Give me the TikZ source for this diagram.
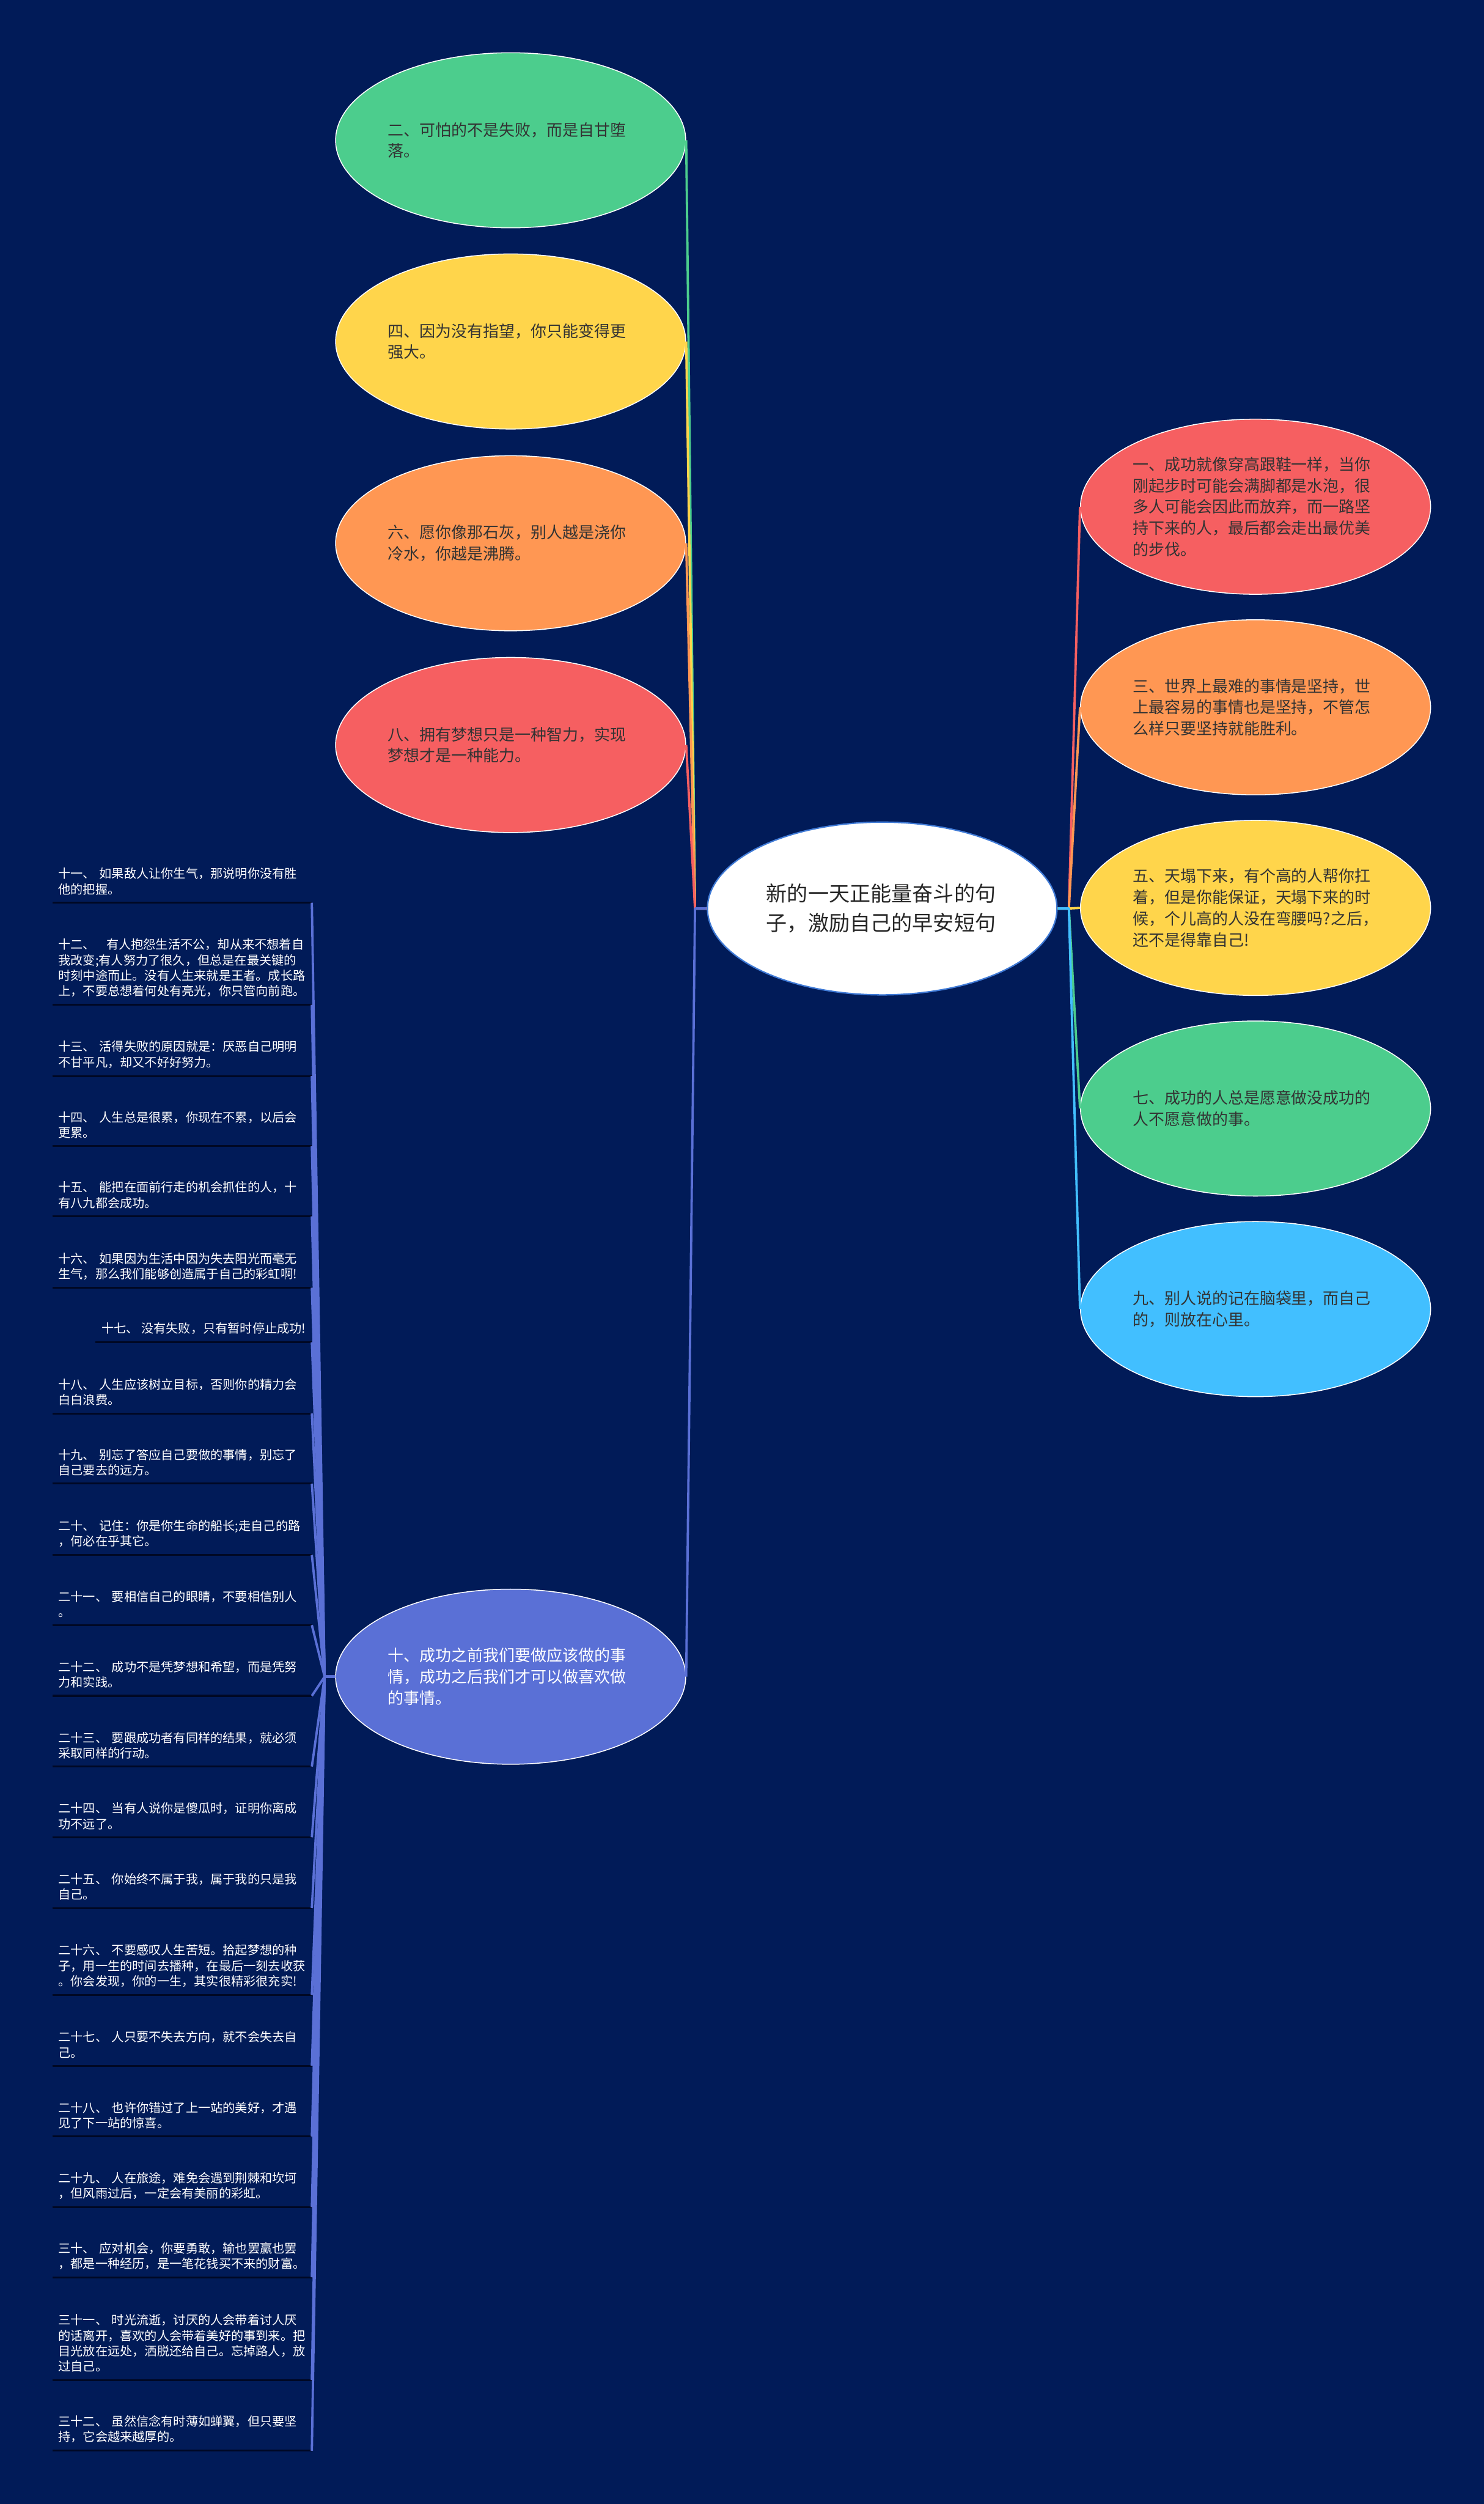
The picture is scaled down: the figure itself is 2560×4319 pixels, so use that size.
\documentclass[tikz,border=0pt]{standalone}
\usepackage{fontspec}
\setmainfont{Noto Sans CJK SC}
\usetikzlibrary{shapes.geometric}
\definecolor{bg}{HTML}{011B58}
\definecolor{cgreen}{HTML}{4CCD8D}
\definecolor{cyellow}{HTML}{FFD54B}
\definecolor{corange}{HTML}{FF9753}
\definecolor{cred}{HTML}{F65F61}
\definecolor{cblue}{HTML}{42BFFF}
\definecolor{cviolet}{HTML}{5A70D6}
\definecolor{rootline}{HTML}{3F7AD6}
\definecolor{leaftext}{HTML}{333333}
\definecolor{ulinecol}{HTML}{000824}
\begin{document}
\begin{tikzpicture}[x=0.5pt,y=-0.5pt,
  rootnode/.style={ellipse, draw=rootline, line width=1.2pt, fill=white,
    minimum width=301.5pt, minimum height=149pt, inner sep=0pt,
    text width=200pt, align=left, text=black!85,
    font=\fontsize{18pt}{25pt}\selectfont},
  leaf/.style={ellipse, draw=white, line width=0.8pt, fill=#1,
    minimum width=302pt, minimum height=151pt, inner sep=0pt,
    text width=212pt, align=left, text=leaftext,
    font=\fontsize{13.7pt}{18.35pt}\selectfont},
  itembase/.style={anchor=south east, text=white, align=left,
    inner xsep=5pt, inner ysep=6.5pt,
    font=\fontsize{10.65pt}{13.35pt}\selectfont},
  listitem/.style={itembase, text width=213.5pt},
  uline/.style={draw=ulinecol, line width=1.6pt},
  conn/.style={draw=#1, line width=2pt, line join=round}
]
\useasboundingbox (0,0) rectangle (2560,4319);
\fill[bg] (0,0) rectangle (2560,4319);

% root
\node[rootnode] (root) at (1522,1567) {新的一天正能量奋斗的句\\子，激励自己的早安短句};
\coordinate (jL) at (1199,1567);
\coordinate (jR) at (1844,1567);

% left ellipses
\node[leaf=cgreen] (n2) at (881,242) {二、可怕的不是失败，而是自甘堕\\落。};
\node[leaf=cyellow] (n4) at (881,589) {四、因为没有指望，你只能变得更\\强大。};
\node[leaf=corange] (n6) at (881,937) {六、愿你像那石灰，别人越是浇你\\冷水，你越是沸腾。};
\node[leaf=cred] (n8) at (881,1285) {八、拥有梦想只是一种智力，实现\\梦想才是一种能力。};
\node[leaf=cviolet, text=white] (n10) at (881,2892) {十、成功之前我们要做应该做的事\\情，成功之后我们才可以做喜欢做\\的事情。};

% right ellipses
\node[leaf=cred] (n1) at (2166,874) {一、成功就像穿高跟鞋一样，当你\\刚起步时可能会满脚都是水泡，很\\多人可能会因此而放弃，而一路坚\\持下来的人，最后都会走出最优美\\的步伐。};
\node[leaf=corange] (n3) at (2166,1220) {三、世界上最难的事情是坚持，世\\上最容易的事情也是坚持，不管怎\\么样只要坚持就能胜利。};
\node[leaf=cyellow] (n5) at (2166,1566) {五、天塌下来，有个高的人帮你扛\\着，但是你能保证，天塌下来的时\\候，个儿高的人没在弯腰吗?之后，\\还不是得靠自己!};
\node[leaf=cgreen] (n7) at (2166,1912) {七、成功的人总是愿意做没成功的\\人不愿意做的事。};
\node[leaf=cblue] (n9) at (2166,2258) {九、别人说的记在脑袋里，而自己\\的，则放在心里。};

% list items under 十
\coordinate (jT) at (560,2892);
\node[listitem] (i11) at (538,1557) {十一、 如果敌人让你生气，那说明你没有胜\\他的把握。};
\node[listitem] (i12) at (538,1733) {十二、\hspace{0.9em}有人抱怨生活不公，却从来不想着自\\我改变;有人努力了很久，但总是在最关键的\\时刻中途而止。没有人生来就是王者。成长路\\上，不要总想着何处有亮光，你只管向前跑。};
\node[listitem] (i13) at (538,1856) {十三、 活得失败的原因就是：厌恶自己明明\\不甘平凡，却又不好好努力。};
\node[listitem] (i14) at (538,1977) {十四、 人生总是很累，你现在不累，以后会\\更累。};
\node[listitem] (i15) at (538,2098) {十五、 能把在面前行走的机会抓住的人，十\\有八九都会成功。};
\node[listitem] (i16) at (538,2221) {十六、 如果因为生活中因为失去阳光而毫无\\生气，那么我们能够创造属于自己的彩虹啊!};
\node[itembase] (i17) at (538,2315) {十七、 没有失败，只有暂时停止成功!};
\node[listitem] (i18) at (538,2438) {十八、 人生应该树立目标，否则你的精力会\\白白浪费。};
\node[listitem] (i19) at (538,2559) {十九、 别忘了答应自己要做的事情，别忘了\\自己要去的远方。};
\node[listitem] (i20) at (538,2682) {二十、 记住：你是你生命的船长;走自己的路\\，何必在乎其它。};
\node[listitem] (i21) at (538,2803) {二十一、 要相信自己的眼睛，不要相信别人\\。};
\node[listitem] (i22) at (538,2925) {二十二、 成功不是凭梦想和希望，而是凭努\\力和实践。};
\node[listitem] (i23) at (538,3047) {二十三、 要跟成功者有同样的结果，就必须\\采取同样的行动。};
\node[listitem] (i24) at (538,3169) {二十四、 当有人说你是傻瓜时，证明你离成\\功不远了。};
\node[listitem] (i25) at (538,3291) {二十五、 你始终不属于我，属于我的只是我\\自己。};
\node[listitem] (i26) at (538,3441) {二十六、 不要感叹人生苦短。拾起梦想的种\\子，用一生的时间去播种，在最后一刻去收获\\。你会发现，你的一生，其实很精彩很充实!};
\node[listitem] (i27) at (538,3563) {二十七、 人只要不失去方向，就不会失去自\\己。};
\node[listitem] (i28) at (538,3685) {二十八、 也许你错过了上一站的美好，才遇\\见了下一站的惊喜。};
\node[listitem] (i29) at (538,3807) {二十九、 人在旅途，难免会遇到荆棘和坎坷\\，但风雨过后，一定会有美丽的彩虹。};
\node[listitem] (i30) at (538,3928) {三十、 应对机会，你要勇敢，输也罢赢也罢\\，都是一种经历，是一笔花钱买不来的财富。};
\node[listitem] (i31) at (538,4105) {三十一、 时光流逝，讨厌的人会带着讨人厌\\的话离开，喜欢的人会带着美好的事到来。把\\目光放在远处，洒脱还给自己。忘掉路人，放\\过自己。};
\node[listitem] (i32) at (538,4227) {三十二、 虽然信念有时薄如蝉翼，但只要坚\\持，它会越来越厚的。};

% underlines
\foreach \n in {i11,i12,i13,i14,i15,i16,i17,i18,i19,i20,i21,i22,i23,i24,i25,i26,i27,i28,i29,i30,i31,i32}
  \draw[uline] (\n.south west) -- (\n.south east);

% list connectors
\foreach \n in {i11,i12,i13,i14,i15,i16,i17,i18,i19,i20,i21,i22,i23,i24,i25,i26,i27,i28,i29,i30,i31,i32}
  \draw[conn=cviolet] (n10.west) -- (jT) -- (\n.south east);

% left connectors
\draw[conn=cgreen] (root.west) -- (jL) -- (n2.east);
\draw[conn=cyellow] (root.west) -- (jL) -- (n4.east);
\draw[conn=corange] (root.west) -- (jL) -- (n6.east);
\draw[conn=cred] (root.west) -- (jL) -- (n8.east);
\draw[conn=cviolet] (root.west) -- (jL) -- (n10.east);

% right connectors
\draw[conn=cred] (root.east) -- (jR) -- (n1.west);
\draw[conn=corange] (root.east) -- (jR) -- (n3.west);
\draw[conn=cyellow] (root.east) -- (jR) -- (n5.west);
\draw[conn=cgreen] (root.east) -- (jR) -- (n7.west);
\draw[conn=cblue] (root.east) -- (jR) -- (n9.west);
\end{tikzpicture}
\end{document}
